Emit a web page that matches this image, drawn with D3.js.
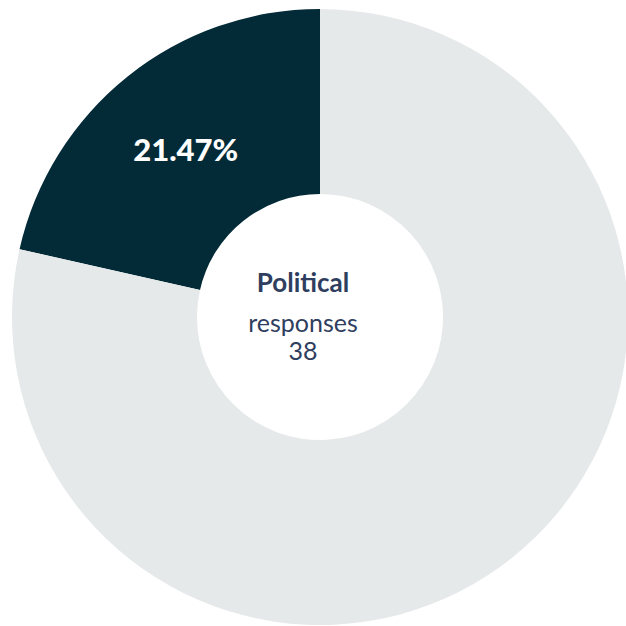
<!DOCTYPE html>
<html>
<head>
<meta charset="utf-8">
<script src="https://cdn.jsdelivr.net/npm/d3@7"></script>
<style>
  html, body { margin: 0; padding: 0; background: #ffffff; }
  svg { display: block; }
</style>
</head>
<body>
<svg id="chart" width="626" height="626"></svg>
<script>
// Share of responses per group
const categories = ["Political", "Other"];
const shares = [21.47, 78.53];
const sliceColors = ["#032b37", "#e6e9ea"];

// Centre label
const centerTitle = "Political";
const centerSubtitle = "responses";
const responseCount = 38;

const width = 626, height = 626;
const cx = 320, cy = 317;
const outerR = 308, innerR = 123;

const svg = d3.select("#chart");
const g = svg.append("g").attr("transform", `translate(${cx},${cy})`);

const pie = d3.pie().sort(null).value(d => d.value);
// first slice runs counter-clockwise from 12 o'clock
const arcsData = pie.startAngle(0).endAngle(-2 * Math.PI)(
  categories.map((c, i) => ({ name: c, value: shares[i], color: sliceColors[i] }))
);

const arc = d3.arc().innerRadius(innerR).outerRadius(outerR);

g.selectAll("path.slice")
  .data(arcsData)
  .join("path")
  .attr("class", "slice")
  .attr("d", arc)
  .attr("fill", d => d.data.color);

// Percentage label inside the highlighted slice
const labelArc = d3.arc().innerRadius(215).outerRadius(215);
const first = arcsData[0];
const [lx, ly] = labelArc.centroid(first);
g.append("text")
  .attr("x", lx)
  .attr("y", ly)
  .attr("text-anchor", "middle")
  .attr("dominant-baseline", "central")
  .attr("font-family", "Lato, sans-serif")
  .attr("font-weight", 900)
  .attr("font-size", 31)
  .attr("fill", "#ffffff")
  .text(d3.format(".2f")(first.data.value) + "%");

// Centre text block
const tx = -17;
g.append("text")
  .attr("x", tx).attr("y", -25)
  .attr("text-anchor", "middle")
  .attr("font-family", "Lato, sans-serif")
  .attr("font-weight", 700)
  .attr("font-size", 26)
  .attr("fill", "#2f3e5e")
  .text(centerTitle);

g.append("text")
  .attr("x", tx).attr("y", 15)
  .attr("text-anchor", "middle")
  .attr("font-family", "Lato, sans-serif")
  .attr("font-weight", 400)
  .attr("font-size", 25)
  .attr("fill", "#2f3e5e")
  .text(centerSubtitle);

g.append("text")
  .attr("x", tx).attr("y", 43)
  .attr("text-anchor", "middle")
  .attr("font-family", "Lato, sans-serif")
  .attr("font-weight", 400)
  .attr("font-size", 25)
  .attr("fill", "#2f3e5e")
  .text(responseCount);
</script>
</body>
</html>
